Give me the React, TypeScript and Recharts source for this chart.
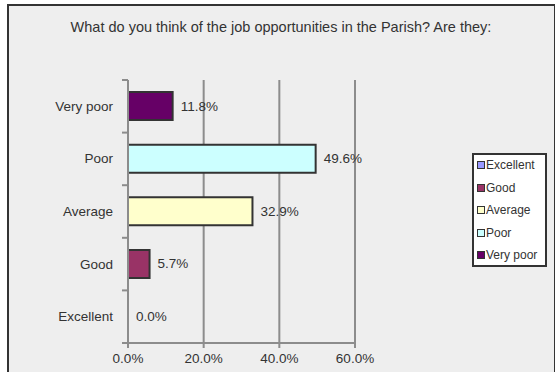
import { BarChart, Bar, Cell, XAxis, YAxis, CartesianGrid } from 'recharts'

const TITLE = 'What do you think of the job opportunities in the Parish? Are they:'
const categories = ['Excellent', 'Good', 'Average', 'Poor', 'Very poor']
const values = [0.0, 5.7, 32.9, 49.6, 11.8]
const colors = ['#9999ff', '#993366', '#ffffcc', '#ccffff', '#660066']
const xTicks = [0, 20, 40, 60]

const data = categories.map((name, i) => ({ name, value: values[i] }))

const FONT = '"Liberation Sans", Arial, sans-serif'
const AXIS = '#8c8c8c'
const TEXT = '#333333'
const Y_AXIS_W = 128
const fmt = (v: any) => `${Number(v).toFixed(1)}%`

// category tick: label plus tick marks on the band boundaries
function CategoryTick(props: any) {
  const { y, payload, index, visibleTicksCount } = props
  const half = payload.offset ?? 0
  const lx1 = Y_AXIS_W - 6
  const lx2 = Y_AXIS_W
  return (
    <g>
      <line x1={lx1} x2={lx2} y1={y + half} y2={y + half} stroke={AXIS} strokeWidth={2} />
      {index === visibleTicksCount - 1 && (
        <line x1={lx1} x2={lx2} y1={y - half} y2={y - half} stroke={AXIS} strokeWidth={2} />
      )}
      <text x={Y_AXIS_W - 15} y={y} dy={4.5} textAnchor="end" fill={TEXT} fontSize={13.5} fontFamily={FONT}>
        {payload.value}
      </text>
    </g>
  )
}

// value label to the right of each bar (also for empty bars)
function BarLabel(props: any) {
  const { x, y, width, height, value } = props
  const w = value === 0 ? 0 : width
  return (
    <text x={x + w + 8} y={y + height / 2} dy={4.5} fill={TEXT} fontSize={13.5} fontFamily={FONT}>
      {fmt(value)}
    </text>
  )
}

export default function App() {
  return (
    <div style={{ position: 'absolute', left: 0, top: 0, width: 555, height: 372, background: '#fff', overflow: 'hidden' }}>
      <div
        style={{
          position: 'absolute', left: 7, top: 4, width: 545, height: 372,
          background: '#eeeeee', borderTop: '2px solid #333', borderLeft: '2px solid #333', borderRight: '2px solid #333',
        }}
      />
      <div
        style={{
          position: 'absolute', left: 0, top: 19, width: 562, textAlign: 'center',
          fontFamily: FONT, fontSize: 14.5, color: TEXT,
        }}
      >
        {TITLE}
      </div>

      <div style={{ position: 'absolute', left: 0, top: 0 }}>
        <BarChart
          width={555}
          height={372}
          data={data}
          layout="vertical"
          margin={{ top: 80, right: 200, left: 0, bottom: 0 }}
          barCategoryGap="23%"
        >
          <CartesianGrid horizontal={false} stroke={AXIS} strokeWidth={2} />
          <XAxis
            type="number"
            domain={[0, 60]}
            ticks={xTicks}
            tickFormatter={fmt}
            height={29}
            axisLine={{ stroke: AXIS, strokeWidth: 2 }}
            tickLine={{ stroke: AXIS, strokeWidth: 2 }}
            tickSize={5}
            tickMargin={5}
            tick={{ fill: TEXT, fontSize: 13.5, fontFamily: FONT }}
          />
          <YAxis
            type="category"
            dataKey="name"
            reversed
            width={Y_AXIS_W}
            axisLine={{ stroke: AXIS, strokeWidth: 2 }}
            tickLine={false}
            tick={<CategoryTick />}
          />
          <Bar dataKey="value" stroke="#333" strokeWidth={2} minPointSize={1} isAnimationActive={false} label={<BarLabel />}>
            {data.map((d, i) => (
              <Cell key={i} fill={colors[i]} fillOpacity={d.value === 0 ? 0 : 1} stroke={d.value === 0 ? 'none' : '#333'} />
            ))}
          </Bar>
        </BarChart>
      </div>

      {/* legend */}
      <div
        style={{
          position: 'absolute', left: 472, top: 153, width: 71, height: 110,
          border: '2px solid #333', background: '#fff', fontFamily: FONT, fontSize: 12, color: TEXT,
        }}
      >
        {categories.map((c, i) => (
          <div key={c} style={{ position: 'absolute', left: 3, top: 2 + i * 22.5, height: 16, display: 'flex', alignItems: 'center', whiteSpace: 'nowrap' }}>
            <span style={{ width: 6, height: 6, background: colors[i], border: '1.5px solid #333', marginRight: 1 }} />
            {c}
          </div>
        ))}
      </div>
    </div>
  )
}
